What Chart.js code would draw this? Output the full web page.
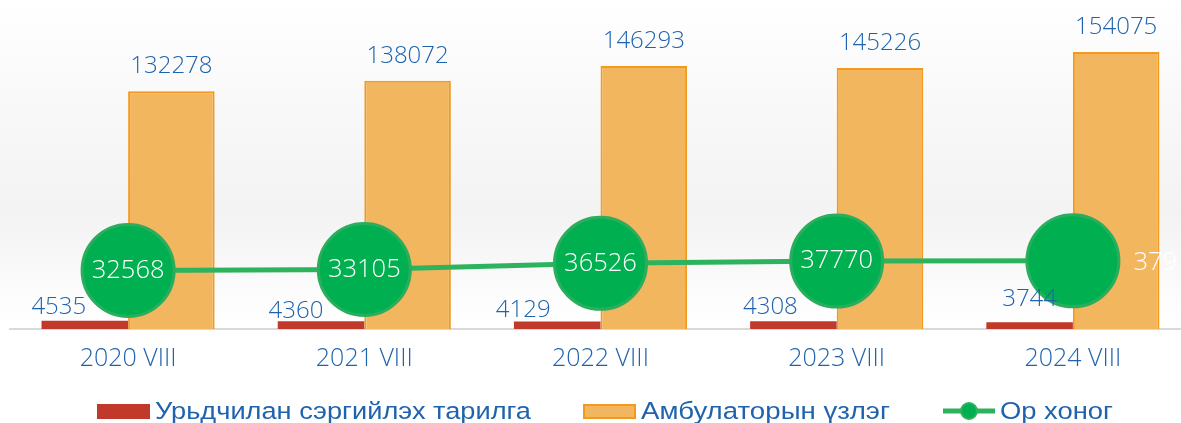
<!DOCTYPE html>
<html>
<head>
<meta charset="utf-8">
<script src="https://cdn.jsdelivr.net/npm/chart.js@4/dist/chart.umd.min.js"></script>
<style>
  html, body { margin: 0; padding: 0; background: #ffffff; overflow: hidden; width: 1181px; height: 423px; }
  #wrap { position: absolute; left: 0; top: 0; width: 1191px; height: 423px; }
</style>
</head>
<body>
<div id="wrap"><canvas id="c" width="1191" height="423"></canvas></div>
<script>
const categories = ['2020 VIII', '2021 VIII', '2022 VIII', '2023 VIII', '2024 VIII'];
const vaccination = [4535, 4360, 4129, 4308, 3744];
const outpatient = [132278, 138072, 146293, 145226, 154075];
const bedDays = [32568, 33105, 36526, 37770, 37915];
const seriesNames = ['Урьдчилан сэргийлэх тарилга', 'Амбулаторын үзлэг', 'Ор хоног'];

const BLUE = '#1f63ae';
const RED = '#c0392b';
const ORANGE_FILL = '#f2b65e';
const ORANGE_BORDER = '#f39a1e';
const GREEN_FILL = '#00b050';
const GREEN_LINE = '#2db35d';
const NUM_FONT = '"Open Sans", "DejaVu Sans", sans-serif';

const bgPlugin = {
  id: 'bg',
  beforeDraw(chart) {
    const ctx = chart.ctx;
    const bottom = chart.chartArea.bottom;
    ctx.save();
    ctx.fillStyle = '#ffffff';
    ctx.fillRect(0, 0, chart.width, chart.height);
    const g = ctx.createLinearGradient(0, 0, 0, bottom);
    g.addColorStop(0, '#ffffff');
    g.addColorStop(0.35, '#f8f8f8');
    g.addColorStop(0.65, '#f3f3f3');
    g.addColorStop(0.8, '#f8f8f8');
    g.addColorStop(0.92, '#fdfdfd');
    g.addColorStop(1, '#ffffff');
    ctx.fillStyle = g;
    ctx.fillRect(0, 0, chart.width, bottom);
    ctx.restore();
  }
};

const labelPlugin = {
  id: 'valueLabels',
  afterDatasetsDraw(chart, args, opts) {
    const ctx = chart.ctx;
    ctx.save();
    ctx.textAlign = 'center';
    ctx.textBaseline = 'middle';
    ctx.font = '300 24px ' + NUM_FONT;
    const m0 = chart.getDatasetMeta(0);
    m0.data.forEach((el, i) => {
      const o = opts.redOffsets[i];
      ctx.fillStyle = BLUE;
      ctx.fillText(String(vaccination[i]), el.x + o[0], el.y + o[1]);
    });
    const m1 = chart.getDatasetMeta(1);
    m1.data.forEach((el, i) => {
      ctx.fillStyle = BLUE;
      ctx.fillText(String(outpatient[i]), el.x, el.y + opts.orangeOffset);
    });
    ctx.font = '300 25.5px ' + NUM_FONT;
    const m2 = chart.getDatasetMeta(2);
    m2.data.forEach((el, i) => {
      const o = opts.lineOffsets[i];
      ctx.fillStyle = '#ffffff';
      ctx.fillText(String(bedDays[i]), el.x + o[0], el.y + o[1]);
    });
    ctx.restore();
  }
};

const legendPlugin = {
  id: 'customLegend',
  afterDraw(chart, args, opts) {
    const ctx = chart.ctx;
    const y = opts.y;
    ctx.save();
    ctx.fillStyle = RED;
    ctx.fillRect(97, y - 7, 53, 15);
    ctx.fillStyle = ORANGE_FILL;
    ctx.fillRect(583, y - 7, 53, 15);
    ctx.strokeStyle = ORANGE_BORDER;
    ctx.lineWidth = 2;
    ctx.strokeRect(584, y - 6, 51, 13);
    ctx.strokeStyle = GREEN_LINE;
    ctx.lineWidth = 5;
    ctx.beginPath();
    ctx.moveTo(943, y);
    ctx.lineTo(995, y);
    ctx.stroke();
    ctx.fillStyle = GREEN_FILL;
    ctx.beginPath();
    ctx.arc(969, y, 8, 0, Math.PI * 2);
    ctx.fill();
    ctx.strokeStyle = GREEN_LINE;
    ctx.lineWidth = 2;
    ctx.stroke();
    ctx.fillStyle = BLUE;
    ctx.textBaseline = 'middle';
    ctx.textAlign = 'left';
    ctx.font = '22px "Liberation Sans", Arial, sans-serif';
    const items = [[seriesNames[0], 155, 376], [seriesNames[1], 641, 249], [seriesNames[2], 1000, 113]];
    items.forEach(([t, x, w]) => {
      const mw = ctx.measureText(t).width;
      ctx.save();
      ctx.translate(x, y + 1);
      ctx.scale(w / mw, 1.08);
      ctx.fillText(t, 0, 0);
      ctx.restore();
    });
    ctx.restore();
  }
};

new Chart(document.getElementById('c'), {
  data: {
    labels: categories,
    datasets: [
      {
        type: 'bar', label: seriesNames[0], data: vaccination,
        backgroundColor: RED, borderWidth: 0, order: 2,
        categoryPercentage: 0.733, barPercentage: 1
      },
      {
        type: 'bar', label: seriesNames[1], data: outpatient,
        backgroundColor: ORANGE_FILL, borderColor: ORANGE_BORDER, borderWidth: 2, order: 2,
        categoryPercentage: 0.733, barPercentage: 1
      },
      {
        type: 'line', label: seriesNames[2], data: bedDays,
        borderColor: GREEN_LINE, borderWidth: 5, backgroundColor: GREEN_FILL,
        pointRadius: 46, pointHoverRadius: 46, pointBackgroundColor: GREEN_FILL,
        pointBorderColor: '#2aad5c', pointBorderWidth: 3, tension: 0, order: 0
      }
    ]
  },
  options: {
    responsive: false,
    animation: false,
    events: [],
    layout: { autoPadding: false, padding: { left: 10, right: 0, top: 0, bottom: 34 } },
    scales: {
      x: {
        grid: { display: false, drawTicks: false },
        border: { display: true, color: '#d9d9d9', width: 2 },
        ticks: { color: BLUE, font: { size: 25, family: NUM_FONT, weight: '300' }, padding: 15 }
      },
      y: { display: false, min: 0, max: 183000 }
    },
    plugins: {
      legend: { display: false },
      tooltip: { enabled: false },
      valueLabels: {
        redOffsets: [[-26, -14], [-25, -10], [-34, -11], [-23, -14], [0, -23]],
        orangeOffset: -25,
        lineOffsets: [[0, 0], [0, 0], [0, 0], [0, 0], [97, 2]]
      },
      customLegend: { y: 411 }
    }
  },
  plugins: [bgPlugin, labelPlugin, legendPlugin]
});
</script>
</body>
</html>
